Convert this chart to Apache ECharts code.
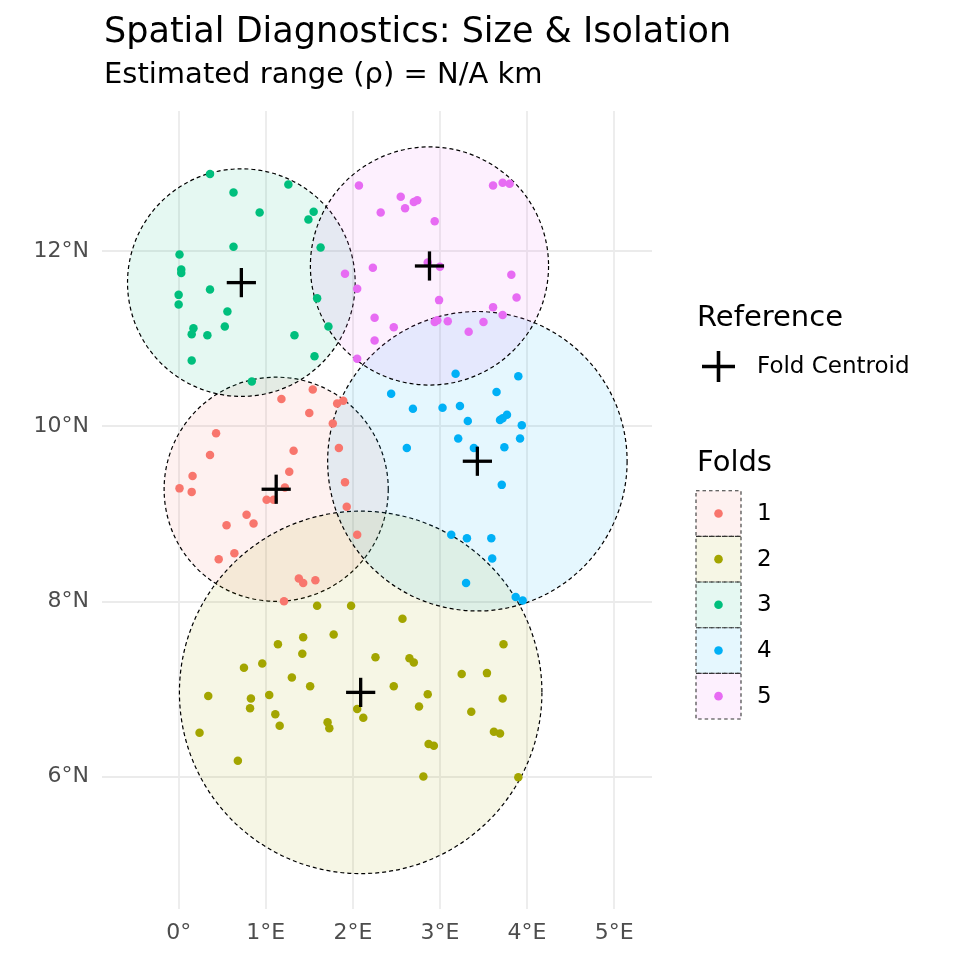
<!DOCTYPE html>
<html>
<head>
<meta charset="utf-8">
<script src="https://cdn.jsdelivr.net/npm/echarts@6/dist/echarts.min.js"></script>
<style>
html,body{margin:0;padding:0;background:#fff;}
#chart{width:960px;height:960px;}
</style>
</head>
<body>
<div id="chart"></div>
<script>
// ---- data ----
const foldNames = ['1', '2', '3', '4', '5'];
const foldColors = ['#F8766D', '#A3A500', '#00BF7D', '#00B0F6', '#E76BF3'];

const fold1Points = [
  [1.54,10.42],[1.18,10.31],[1.50,10.15],[1.82,10.26],[1.89,10.29],[1.77,10.03],[0.43,9.92],
  [1.84,9.75],[1.32,9.72],[0.36,9.67],[1.27,9.48],[0.16,9.43],[0.01,9.29],[0.15,9.25],
  [1.91,9.36],[1.22,9.30],[1.01,9.16],[1.09,9.16],[1.93,9.08],[0.78,8.99],[0.55,8.87],
  [0.86,8.89],[2.05,8.76],[0.64,8.55],[0.46,8.48],[1.38,8.26],[1.43,8.21],[1.57,8.24],[1.21,8.00]
];
const fold2Points = [
  [1.59,7.95],[1.98,7.95],[1.43,7.59],[1.78,7.62],[1.14,7.51],[1.42,7.40],[0.96,7.29],
  [0.75,7.24],[1.30,7.13],[1.51,7.03],[0.34,6.92],[0.83,6.89],[1.04,6.93],[0.82,6.78],
  [1.11,6.71],[1.16,6.58],[1.71,6.62],[1.73,6.55],[0.24,6.50],[0.68,6.18],[2.05,6.77],
  [2.57,7.80],[2.26,7.36],[2.65,7.35],[2.70,7.30],[3.73,7.51],[3.25,7.17],[3.54,7.18],
  [2.47,7.03],[2.86,6.94],[2.76,6.80],[3.72,6.89],[3.36,6.74],[2.12,6.67],[3.62,6.51],
  [3.69,6.49],[2.87,6.37],[2.93,6.35],[2.81,6.00],[3.90,5.99]
];
const fold3Points = [
  [0.36,12.88],[0.63,12.67],[1.26,12.76],[0.93,12.44],[1.55,12.45],[1.49,12.36],[0.63,12.05],
  [1.63,12.04],[0.01,11.96],[0.03,11.79],[0.03,11.75],[0.36,11.56],[0.00,11.50],[0.00,11.39],
  [0.56,11.31],[1.59,11.46],[0.53,11.14],[0.17,11.12],[0.15,11.05],[0.33,11.04],[1.33,11.04],
  [1.72,11.14],[0.15,10.75],[1.56,10.80],[0.84,10.51]
];
const fold4Points = [
  [3.18,10.60],[3.90,10.57],[2.44,10.37],[3.65,10.39],[2.69,10.20],[3.03,10.21],[3.23,10.23],
  [3.32,10.06],[3.69,10.07],[3.72,10.09],[3.77,10.13],[3.94,10.01],[3.21,9.86],[3.39,9.75],
  [3.74,9.76],[3.92,9.86],[2.62,9.75],[3.71,9.33],[3.13,8.76],[3.31,8.72],[3.59,8.72],
  [3.60,8.49],[3.30,8.21],[3.87,8.05],[3.95,8.01]
];
const fold5Points = [
  [2.07,12.75],[2.55,12.62],[2.70,12.56],[2.74,12.58],[2.60,12.49],[2.32,12.44],[2.94,12.34],
  [3.61,12.75],[3.72,12.78],[3.80,12.77],[2.23,11.81],[1.91,11.74],[2.86,11.87],[3.00,11.82],
  [2.05,11.57],[3.82,11.73],[3.88,11.47],[2.99,11.44],[2.25,11.24],[2.47,11.13],[2.25,10.98],
  [2.05,10.77],[2.94,11.19],[2.97,11.21],[3.09,11.20],[3.33,11.08],[3.50,11.19],[3.61,11.36],[3.72,11.27]
];
const centroidLon = [1.12, 2.09, 0.72, 3.43, 2.88];
const centroidLat = [9.28, 6.96, 11.64, 9.60, 11.83];
const bufferRadius = [1.28, 2.07, 1.30, 1.71, 1.36]; // degrees

const titleText = 'Spatial Diagnostics: Size & Isolation';
const subtitleText = 'Estimated range (\u03C1) = N/A km';
const refTitle = 'Reference';
const refLabel = 'Fold Centroid';
const foldsTitle = 'Folds';

// ---- helpers ----
function rgba(hex, a) {
  const n = parseInt(hex.slice(1), 16);
  return 'rgba(' + ((n >> 16) & 255) + ',' + ((n >> 8) & 255) + ',' + (n & 255) + ',' + a + ')';
}
const allPoints = [fold1Points, fold2Points, fold3Points, fold4Points, fold5Points];
const FONT = 'DejaVu Sans';

const bufferData = foldNames.map((f, i) => [centroidLon[i], centroidLat[i], bufferRadius[i], i]);
const centroidData = foldNames.map((f, i) => [centroidLon[i], centroidLat[i]]);

const series = [];
series.push({
  type: 'custom',
  name: 'buffers',
  data: bufferData,
  clip: true,
  silent: true,
  z: 1,
  renderItem: function (params, api) {
    const c = api.coord([api.value(0), api.value(1)]);
    const r = api.size([0, api.value(2)])[1];
    const i = api.value(3);
    return {
      type: 'circle',
      shape: { cx: c[0], cy: c[1], r: r },
      style: { fill: rgba(foldColors[i], 0.1), stroke: '#000', lineWidth: 1.2, lineDash: [4, 3] }
    };
  }
});
allPoints.forEach((pts, i) => {
  series.push({
    type: 'scatter',
    name: foldNames[i],
    data: pts,
    symbol: 'circle',
    symbolSize: 8.5,
    itemStyle: { color: foldColors[i], opacity: 1 },
    silent: true,
    z: 3
  });
});
series.push({
  type: 'custom',
  name: 'centroids',
  data: centroidData,
  silent: true,
  z: 5,
  renderItem: function (params, api) {
    const c = api.coord([api.value(0), api.value(1)]);
    const h = 14.6;
    return {
      type: 'group',
      children: [
        { type: 'line', shape: { x1: c[0] - h, y1: c[1], x2: c[0] + h, y2: c[1] }, style: { stroke: '#000', lineWidth: 3.3 } },
        { type: 'line', shape: { x1: c[0], y1: c[1] - h, x2: c[0], y2: c[1] + h }, style: { stroke: '#000', lineWidth: 3.3 } }
      ]
    };
  }
});

// ---- titles & legend graphics ----
const graphics = [];
graphics.push({ type: 'text', x: 104, y: 33, style: { text: titleText, font: '35px "' + FONT + '"', fill: '#000', verticalAlign: 'middle' } });
graphics.push({ type: 'text', x: 104, y: 75, style: { text: subtitleText, font: '29px "' + FONT + '"', fill: '#000', verticalAlign: 'middle' } });
graphics.push({ type: 'text', x: 697, y: 318, style: { text: refTitle, font: '29px "' + FONT + '"', fill: '#000', verticalAlign: 'middle' } });
graphics.push({ type: 'line', shape: { x1: 702, y1: 366.5, x2: 735, y2: 366.5 }, style: { stroke: '#000', lineWidth: 3.6 } });
graphics.push({ type: 'line', shape: { x1: 718.5, y1: 351, x2: 718.5, y2: 382 }, style: { stroke: '#000', lineWidth: 3.6 } });
graphics.push({ type: 'text', x: 757, y: 367, style: { text: refLabel, font: '23px "' + FONT + '"', fill: '#000', verticalAlign: 'middle' } });
graphics.push({ type: 'text', x: 697, y: 463, style: { text: foldsTitle, font: '29px "' + FONT + '"', fill: '#000', verticalAlign: 'middle' } });
foldNames.forEach((f, i) => {
  const y0 = 490.7 + i * 45.66;
  graphics.push({ type: 'rect', shape: { x: 696, y: y0, width: 45, height: 45.66 }, style: { fill: rgba(foldColors[i], 0.1), stroke: '#333', lineWidth: 1.1, lineDash: [3.5, 3] } });
  graphics.push({ type: 'circle', shape: { cx: 718.5, cy: y0 + 22.8, r: 4.3 }, style: { fill: foldColors[i] } });
  graphics.push({ type: 'text', x: 757, y: y0 + 23.3, style: { text: f, font: '23px "' + FONT + '"', fill: '#000', verticalAlign: 'middle' } });
});

function isInt(v) { return Math.abs(v - Math.round(v)) < 1e-6; }

const chart = echarts.init(document.getElementById('chart'), null, { renderer: 'canvas' });
chart.setOption({
  animation: false,
  backgroundColor: '#fff',
  grid: { left: 102, top: 111, width: 550, height: 798, containLabel: false },
  xAxis: {
    type: 'value',
    min: -0.88, max: 5.435,
    splitNumber: 5,
    axisLine: { show: false }, axisTick: { show: false },
    splitLine: { show: true, showMinLine: false, showMaxLine: false, lineStyle: { color: '#EBEBEB', width: 1.8 } },
    axisLabel: {
      showMinLabel: false, showMaxLabel: false, margin: 13,
      color: '#4D4D4D', fontFamily: FONT, fontSize: 22,
      formatter: function (v) { if (!isInt(v)) return ''; v = Math.round(v); return v === 0 ? '0\u00B0' : (v > 0 ? v + '\u00B0E' : (-v) + '\u00B0W'); }
    }
  },
  yAxis: {
    type: 'value',
    min: 4.486, max: 13.6,
    splitNumber: 5,
    axisLine: { show: false }, axisTick: { show: false },
    splitLine: { show: true, showMinLine: false, showMaxLine: false, lineStyle: { color: '#EBEBEB', width: 1.8 } },
    axisLabel: {
      showMinLabel: false, showMaxLabel: false, margin: 13,
      color: '#4D4D4D', fontFamily: FONT, fontSize: 22,
      formatter: function (v) { if (!isInt(v)) return ''; v = Math.round(v); return v === 0 ? '0\u00B0' : (v > 0 ? v + '\u00B0N' : (-v) + '\u00B0S'); }
    }
  },
  series: series,
  graphic: graphics
});
</script>
</body>
</html>
